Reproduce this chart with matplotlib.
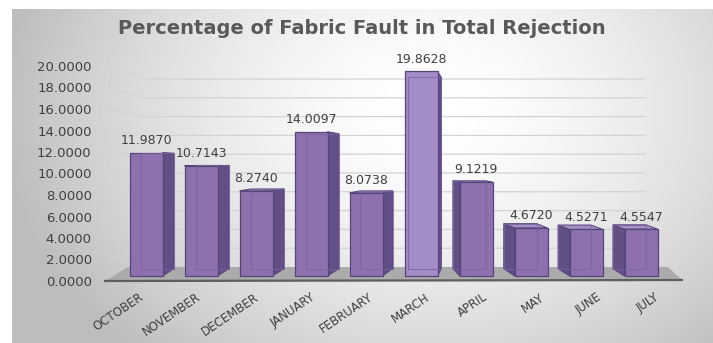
import numpy as np
import matplotlib
matplotlib.use("Agg")
import matplotlib.pyplot as plt
from matplotlib.patches import Polygon
from matplotlib.transforms import ScaledTranslation

# ---- data ----
months = ["OCTOBER", "NOVEMBER", "DECEMBER", "JANUARY", "FEBRUARY",
          "MARCH", "APRIL", "MAY", "JUNE", "JULY"]
values = [11.9870, 10.7143, 8.2740, 14.0097, 8.0738,
          19.8628, 9.1219, 4.6720, 4.5271, 4.5547]
yticks = [0, 2, 4, 6, 8, 10, 12, 14, 16, 18, 20]
title = "Percentage of Fabric Fault in Total Rejection"

# ---- layout (pixels) ----
W, H = 713, 343
X0, DX = 146.0, 55.0      # px of first category, px per category
Y0, DY = 276.0, 10.3      # px of value 0 (bar base), px per unit

fig = plt.figure(figsize=(W / 100, H / 100), dpi=100)

# background gradient box
bg = fig.add_axes([0, 0, 1, 1])
bg.set_zorder(-5)
bg.set_xlim(0, W); bg.set_ylim(H, 0); bg.axis("off")
yy, xx = np.mgrid[0:H, 0:W]
d = np.sqrt((xx - 430.0) ** 2 + ((yy - 110.0) * 1.3) ** 2)
img = 1.0 - 0.26 * np.clip(d / 430.0, 0, 1) ** 1.6
img[(xx < 12) | (yy < 9)] = 1.0
bg.imshow(img, extent=(0, W, H, 0), cmap="gray", vmin=0, vmax=1,
          interpolation="bilinear", aspect="auto")

# main axes: data coords (category index, value)
axl, axr, axt, axb = 100, 690, 55, 281
ax = fig.add_axes([axl / W, 1 - axb / H, (axr - axl) / W, (axb - axt) / H])
ax.set_zorder(2)
ax.set_xlim((axl - X0) / DX, (axr - X0) / DX)
ax.set_ylim((Y0 - axb) / DY, (Y0 - axt) / DY)
ax.patch.set_visible(False)
for s in ax.spines.values():
    s.set_visible(False)

def px2x(px):
    return (px - X0) / DX

def py2y(py):
    return (Y0 - py) / DY

# gridlines (perspective: slanted part + back wall)
grid_c = "#d3d3d3"
for v in yticks[1:]:
    y_front = py2y(281 - 10.75 * v)
    y_back = py2y(267 - 9.4 * v)
    ax.plot([px2x(108), px2x(145), px2x(645)], [y_front, y_back, y_back],
            color=grid_c, lw=0.9, zorder=1, clip_on=False)

# floor
floor = Polygon([(px2x(105), py2y(281)), (px2x(682), py2y(280)),
                 (px2x(668), py2y(267)), (px2x(128), py2y(267))],
                closed=True, facecolor="#ababab", edgecolor="none",
                zorder=2, clip_on=False)
ax.add_patch(floor)
ax.plot([px2x(105), px2x(682)], [py2y(281), py2y(280)],
        color="#5e5e5e", lw=1.6, zorder=2.5, clip_on=False)

# bars with pseudo-3D
front_c = "#8d71ae"
side_c = "#624f86"
top_c = "#a592c4"
edge_c = "#56457a"
VP = 5.35
EYE = 11.0
K = 0.065
w = 0.30
for i, v in enumerate(values):
    dx = 0.21 * np.tanh((VP - i) / 1.0)
    dyb = K * EYE
    dyt = K * (EYE - v)
    bx = [i - w + dx, i + w + dx, i + w + dx, i - w + dx, i - w + dx]
    by = [dyb, dyb, v + dyt, v + dyt, dyb]
    xe = i + w if dx > 0 else i - w
    side = Polygon([(xe, 0), (xe + dx, dyb), (xe + dx, v + dyt), (xe, v)],
                   closed=True, facecolor=side_c, edgecolor=edge_c,
                   lw=0.7, zorder=3)
    ax.add_patch(side)
    if dyt > 0:
        top = Polygon([(i - w, v), (i + w, v), (i + w + dx, v + dyt),
                       (i - w + dx, v + dyt)], closed=True,
                      facecolor=top_c, edgecolor=edge_c, lw=0.7, zorder=3)
        ax.add_patch(top)
    fc = "#a48cc6" if v == max(values) else front_c
    front = Polygon([(i - w, 0), (i + w, 0), (i + w, v), (i - w, v)],
                    closed=True, facecolor=fc, edgecolor=edge_c,
                    lw=0.9, zorder=4)
    ax.add_patch(front)
    ax.plot(bx, by, color="#7a62a0", lw=0.8, zorder=5, alpha=0.8)
    ax.annotate(f"{v:.4f}", xy=(i, v), xytext=(0, 4),
                textcoords="offset points", ha="center", va="bottom",
                fontsize=9, color="#404040", zorder=6)

# x tick labels
ax.set_xticks(range(len(months)))
ax.set_xticklabels(months, fontsize=8.5, color="#404040", rotation=34,
                   ha="right", va="top", rotation_mode="anchor")
ax.tick_params(axis="x", length=0, pad=7)
for k, lab in enumerate(ax.get_xticklabels()):
    off = (-7 + 2.2 * k) / 100.0
    lab.set_transform(lab.get_transform() +
                      ScaledTranslation(off, 0, fig.dpi_scale_trans))
ax.set_yticks([])

# y tick labels (separate scale of the front-left axis)
ax2 = fig.add_axes([axl / W, 1 - 281 / H, (axr - axl) / W, 215 / H])
ax2.set_zorder(1)
ax2.set_ylim(0, 20)
ax2.set_xticks([])
ax2.set_yticks(yticks)
ax2.set_yticklabels([f"{t:.4f}" for t in yticks], fontsize=9.5,
                    color="#404040")
ax2.tick_params(axis="y", length=0, pad=6)
ax2.patch.set_visible(False)
for s in ax2.spines.values():
    s.set_visible(False)

fig.text(362 / W, 1 - 28 / H, title, ha="center", va="center",
         fontsize=14, fontweight="bold", color="#595959")

fig.savefig("out.png", dpi=100)
